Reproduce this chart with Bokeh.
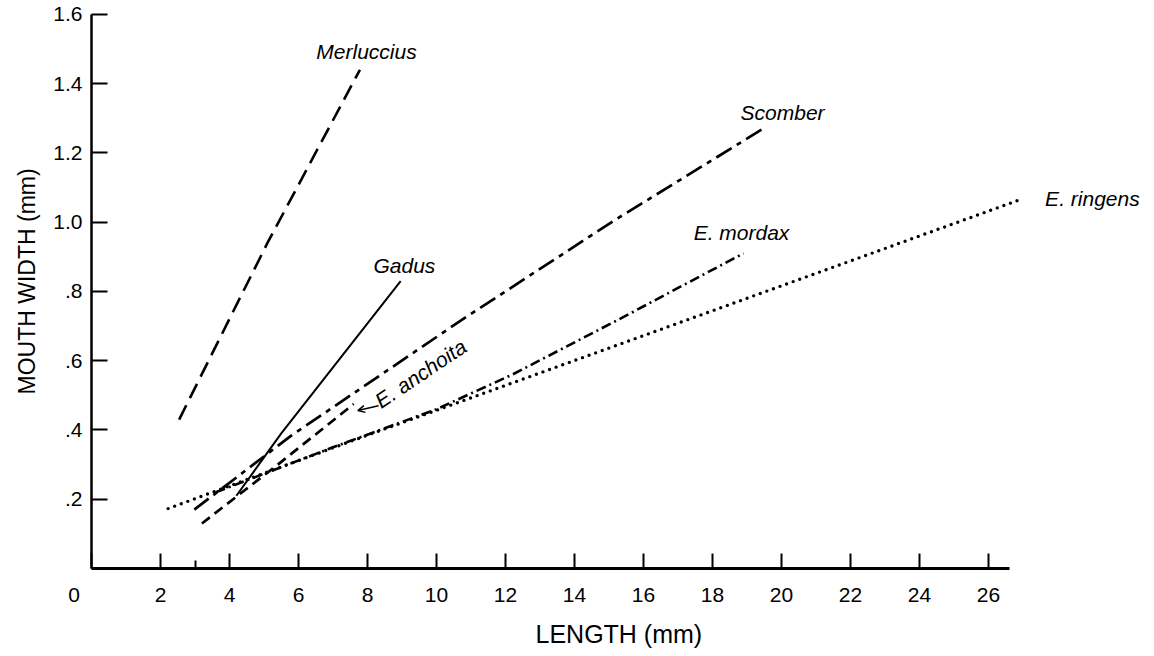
import math
from bokeh.plotting import figure
from bokeh.models import (FixedTicker, Range1d, Arrow, OpenHead, CustomJSTickFormatter,
                          ColumnDataSource, Title)
from bokeh.embed import file_html
from bokeh.resources import INLINE
from bokeh.core.properties import value

# ---- data ----
x_ticks = [0, 2, 4, 6, 8, 10, 12, 14, 16, 18, 20, 22, 24, 26]
x_minor_ticks = [3]
y_ticks = [0.2, 0.4, 0.6, 0.8, 1.0, 1.2, 1.4, 1.6]

merluccius_x = [2.54, 5.1, 7.78]
merluccius_y = [0.43, 0.94, 1.44]

gadus_x = [4.2, 5.5, 8.96]
gadus_y = [0.21, 0.39, 0.83]

scomber_x = [2.98, 5.78, 10.69, 15.12, 19.5]
scomber_y = [0.17, 0.383, 0.715, 1.003, 1.272]

anchoita_x = [3.2, 5.4, 7.6]
anchoita_y = [0.13, 0.30, 0.475]

mordax_x = [3.6, 7.0, 10.0, 12.2, 15.3, 17.0, 18.9]
mordax_y = [0.22, 0.35, 0.46, 0.56, 0.72, 0.81, 0.91]

ringens_x = [2.22, 8.0, 15.1, 27.0]
ringens_y = [0.173, 0.385, 0.64, 1.068]

species_names = ["Merluccius", "Gadus", "Scomber", "E. mordax", "E. ringens"]
# label anchor positions (text centres) in data units
species_label_x = [7.97, 9.07, 20.03, 18.84, 29.01]
species_label_y = [1.492, 0.875, 1.318, 0.970, 1.068]
anchoita_label = "E. anchoita"
anchoita_label_xy = (9.54, 0.563)

x_title = "LENGTH (mm)"
y_title = "MOUTH WIDTH (mm)"

FONT = "Liberation Sans"

p = figure(width=1154, height=656, output_backend="svg", toolbar_location=None,
           x_range=Range1d(0, 30.81), y_range=Range1d(0, 1.64),
           min_border_left=91, min_border_right=0, min_border_top=0, min_border_bottom=88)
p.xgrid.visible = False
p.ygrid.visible = False
p.outline_line_color = None
p.background_fill_color = "white"
p.border_fill_color = "white"

# x axis
xa = p.xaxis[0]
xa.ticker = FixedTicker(ticks=x_ticks, minor_ticks=x_minor_ticks)
xa.bounds = (0, 26.6)
xa.formatter = CustomJSTickFormatter(
    code="return tick == 0 ? '0\u00a0\u00a0\u00a0\u00a0\u00a0\u00a0' : tick.toFixed(0);")
xa.axis_line_width = 3
xa.axis_line_color = "black"
xa.major_tick_in = 15
xa.major_tick_out = 0
xa.minor_tick_in = 8
xa.minor_tick_out = 0
xa.major_tick_line_width = 2
xa.minor_tick_line_width = 2
xa.major_tick_line_color = "black"
xa.minor_tick_line_color = "black"
xa.major_label_standoff = 14
xa.major_label_text_font = FONT
xa.major_label_text_font_size = "21px"
xa.major_label_text_color = "black"

# y axis
ya = p.yaxis[0]
ya.ticker = FixedTicker(ticks=y_ticks)
ya.bounds = (0, 1.6)
ya.formatter = CustomJSTickFormatter(code="var s = tick.toFixed(1); return tick < 1 ? s.slice(1) : s;")
ya.axis_line_width = 2.5
ya.axis_line_color = "black"
ya.major_tick_in = 16
ya.major_tick_out = 0
ya.major_tick_line_width = 2
ya.major_tick_line_color = "black"
ya.minor_tick_line_color = None
ya.major_label_standoff = 9
ya.major_label_text_font = FONT
ya.major_label_text_font_size = "21px"
ya.major_label_text_color = "black"

# axis titles
p.add_layout(Title(text=x_title, align="left", offset=444, standoff=18,
                   text_font=FONT, text_font_size="25px", text_font_style="normal",
                   text_color="black"), "below")
p.add_layout(Title(text=y_title, align="left", offset=174, standoff=22,
                   text_font=FONT, text_font_size="23px", text_font_style="normal",
                   text_color="black"), "left")

# curves
p.line(merluccius_x, merluccius_y, line_color="black", line_width=2.6, line_dash="16 8")
p.line(gadus_x, gadus_y, line_color="black", line_width=2.0)
p.line(scomber_x, scomber_y, line_color="black", line_width=2.7, line_dash="18 6 5 6")
p.line(anchoita_x, anchoita_y, line_color="black", line_width=2.7, line_dash="10 6")
p.line(mordax_x, mordax_y, line_color="black", line_width=2.6, line_dash="10 4 2 4")
p.line(ringens_x, ringens_y, line_color="black", line_width=3.4, line_dash="0 7", line_cap="round")

# species labels
src = ColumnDataSource(dict(x=species_label_x, y=species_label_y, t=species_names))
p.text(x="x", y="y", text="t", source=src, text_font=value(FONT), text_font_style="italic",
       text_font_size="21px", text_align="center", text_baseline="middle", text_color="black")
p.text(x=[anchoita_label_xy[0]], y=[anchoita_label_xy[1]], text=[anchoita_label],
       angle=math.radians(34), text_font=value(FONT), text_font_style="italic",
       text_font_size="21px", text_align="center", text_baseline="middle", text_color="black")
p.add_layout(Arrow(end=OpenHead(size=7, line_width=1.5, line_color="black"),
                   x_start=8.32, y_start=0.47, x_end=7.72, y_end=0.456,
                   line_width=1.5, line_color="black"))

open("out.html", "w").write(file_html(p, INLINE))
